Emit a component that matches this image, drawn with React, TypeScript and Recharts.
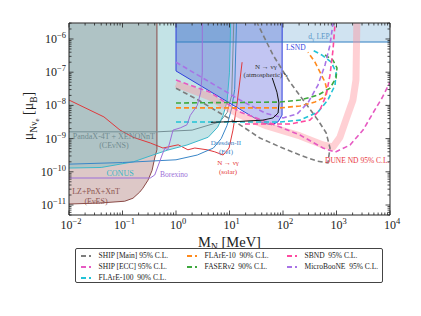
import { Area, ComposedChart, Line, ReferenceDot, XAxis, YAxis } from "recharts";

type Pt = [number, number];

const TOP = 3e-6;
const FONT = "'Liberation Serif', 'DejaVu Serif', serif";

// excluded regions (M_N in MeV, mu in mu_B)
const lzLower: Pt[] = [[0.01, 1.07e-11], [0.038, 1.15e-11], [0.11, 1.3e-11], [0.157, 1.6e-11], [0.21, 2.45e-11], [0.24, 3.2e-11], [0.3, 5.6e-11], [0.357, 1.1e-10], [0.4, 2.6e-10], [0.44, 4.6e-10], [0.44, TOP]];
const conus: Pt[] = [[0.01, 1.3e-10], [0.04, 1.35e-10], [0.16, 2e-10], [0.37, 3.2e-10], [0.7, 4.5e-10], [1.6, 6.4e-10], [4, 1.1e-9], [6, 2.2e-9], [7.6, 5e-9], [9, 1.3e-8], [10, 1e-7], [10.5, TOP]];
const dresden: Pt[] = [[0.01, 1.7e-10], [0.1, 1.9e-10], [1, 2.3e-10], [2.5, 3.2e-10], [5, 5.2e-10], [7, 1e-9], [9, 2.5e-9], [11, 8.3e-9], [12.5, 3e-8], [13.5, TOP]];
const pandax: Pt[] = [[0.01, 1.6e-9], [0.45, 1.6e-9], [2, 1.8e-9], [6.6, 3.2e-9], [9, 6e-9], [11, 2e-8], [12, TOP]];
const lsnd: Pt[] = [[1, TOP], [1, 1.09e-7], [42, 2.95e-9], [62, 2.6e-9], [81, 3.2e-9], [96, 5.1e-9], [96.5, TOP]];
const lep: Pt[] = [[1, 8.1e-7], [10000, 8.1e-7]];
const solar: Pt[] = [[0.01, 1.45e-8], [0.045, 4.5e-9], [0.09, 1.8e-9], [0.157, 1.1e-9], [0.33, 7.4e-10], [0.57, 5.2e-10], [1.1, 6.5e-10], [1.67, 4.6e-10], [2.25, 5.2e-10], [3.8, 4.6e-10], [5.3, 4e-10], [7.6, 3.2e-10], [9.8, 5.2e-10], [11.6, 1.8e-9], [13.7, 1e-8], [15.7, 5.8e-8], [17.2, 2e-7]];
const borexino: Pt[] = [[0.01, 6.5e-11], [0.33, 6.5e-11], [0.4, 8e-11], [0.55, 3.2e-10], [0.62, 5.2e-10], [0.7, 4.6e-10], [0.77, 8e-10], [0.88, 1.8e-9], [1.2, 2.1e-9], [1.6, 2.6e-9], [1.85, 5e-9], [2.5, 1e-8], [2.9, 2.5e-8], [3.1, 1e-7], [3.1, TOP]];
const atmospheric: Pt[] = [[4.5, 3.1e-9], [15.7, 3.3e-9], [42, 3.6e-9], [65, 4.2e-9], [81, 5.9e-9], [84, 1.18e-8], [77, 2.5e-8], [63, 6.7e-8]];
const duneBand: Pt[] = [[1, 4.4e-8], [4.3, 1.8e-8], [15.7, 5.1e-9], [50, 2.4e-9], [208, 1.2e-9], [560, 6.4e-10], [860, 5.6e-10], [1160, 1.1e-9], [1570, 4.5e-9], [2030, 1.45e-8], [2310, 5.8e-8], [2400, TOP]];

// projected sensitivities
const shipMain: Pt[] = [[1, 3.3e-8], [2.8, 1.36e-8], [6.6, 5.9e-9], [15.7, 2.6e-9], [37, 1.04e-9], [88, 5.6e-10], [208, 3.2e-10], [430, 2.1e-10], [690, 1.85e-10], [756, 5.2e-10], [640, 1.5e-9], [450, 3.6e-9], [260, 1.2e-8], [135, 5e-8], [65, 3.3e-7], [33, TOP]];
const shipEcc: Pt[] = [[1, 5.8e-8], [4.3, 2.5e-8], [15.7, 6.3e-9], [50, 3.2e-9], [208, 1.28e-9], [560, 5.2e-10], [940, 3.9e-10], [1790, 6.4e-10], [3130, 1.8e-9], [4810, 5.9e-9], [7080, 1.67e-8], [10000, 5e-8]];
const flare100: Pt[] = [[1, 3.16e-9], [88, 3.16e-9], [208, 3.6e-9], [450, 6.3e-9], [690, 1.45e-8], [940, 4.1e-8], [980, 1e-7], [800, 2e-7], [530, 3.3e-7], [350, 4.7e-7]];
const flare10: Pt[] = [[1, 8.4e-9], [88, 8.4e-9], [208, 9.6e-9], [396, 1.26e-8], [610, 1.8e-8], [665, 2.9e-8], [610, 5e-8], [492, 1e-7], [396, 2e-7], [293, 4e-7]];
const faser2: Pt[] = [[1, 1.18e-8], [88, 1.26e-8], [208, 1.45e-8], [451, 2.05e-8], [756, 3.3e-8], [980, 6.7e-8], [1020, 1.34e-7], [860, 2.3e-7], [610, 3.3e-7]];
const sbnd: Pt[] = [[19.5, 2.75e-9], [135, 2.75e-9], [320, 3.6e-9], [490, 7.3e-9], [640, 2e-8], [756, 8.2e-8], [860, 4.7e-7], [940, TOP]];
const microboone: Pt[] = [[1, 2e-7], [4.3, 5e-8], [15.7, 1.45e-8], [46, 5.9e-9], [100, 4.2e-9], [183, 5.5e-9], [293, 1.2e-8], [450, 4.1e-8], [610, 1.65e-7], [756, 6.6e-7], [860, TOP]];

const xDecades = [-2, -1, 0, 1, 2, 3, 4];
const yDecades = [-12, -11, -10, -9, -8, -7, -6];

const xTicks = xDecades.flatMap((d) => (d === 4 ? [1e4] : [1, 2, 3, 4, 5, 6, 7, 8, 9].map((k) => +(k * 10 ** d).toPrecision(3))));
const yTicks = yDecades.flatMap((d) => [1, 2, 3, 4, 5, 6, 7, 8, 9].map((k) => +(k * 10 ** d).toPrecision(3))).filter((v) => v >= 5e-12 && v <= TOP);

const dashed = [
  { name: "SHIP [Main] 95% C.L.", data: shipMain, color: "#7d7d7d" },
  { name: "SHIP [ECC] 95% C.L.", data: shipEcc, color: "#e65ac2" },
  { name: "FLArE-100  90% C.L.", data: flare100, color: "#22c3d6" },
  { name: "FLArE-10  90% C.L.", data: flare10, color: "#ff8a1c" },
  { name: "FASERν2  90% C.L.", data: faser2, color: "#3ea83e" },
  { name: "SBND  95% C.L.", data: sbnd, color: "#ff4aa0" },
  { name: "MicroBooNE  95% C.L.", data: microboone, color: "#a873e6" },
];

const pts = (a: Pt[]) => a.map(([m, mu]) => ({ m, mu }));
const toTop = (a: Pt[]) => a.map(([m, mu]) => ({ m, r: [mu, TOP] }));

const isMajor = (v: number) => Math.abs(Math.log10(v) - Math.round(Math.log10(v))) < 1e-6;
const exp = (v: number) => String(Math.round(Math.log10(v))).replace("-", "\u2212");

const BottomTick = ({ x, y, payload }: any) => {
  const major = isMajor(payload.value);
  return (
    <g>
      <line x1={x} x2={x} y1={y} y2={y - (major ? 4.5 : 2.5)} stroke="#222" strokeWidth={0.8} />
      {major && (
        <text x={x + 2} y={y + 14} textAnchor="middle" fontFamily={FONT} fontSize={12} fill="#222">
          10<tspan dy={-5} fontSize={8.5}>{exp(payload.value)}</tspan>
        </text>
      )}
    </g>
  );
};
const TopTick = ({ x, y, payload }: any) => (
  <line x1={x} x2={x} y1={y} y2={y + (isMajor(payload.value) ? 4.5 : 2.5)} stroke="#222" strokeWidth={0.8} />
);
const LeftTick = ({ x, y, payload }: any) => {
  const major = isMajor(payload.value);
  return (
    <g>
      <line x1={x} x2={x + (major ? 4.5 : 2.5)} y1={y} y2={y} stroke="#222" strokeWidth={0.8} />
      {major && (
        <text x={x - 3} y={y + 4} textAnchor="end" fontFamily={FONT} fontSize={12} fill="#222">
          10<tspan dy={-5} fontSize={8.5}>{exp(payload.value)}</tspan>
        </text>
      )}
    </g>
  );
};
const RightTick = ({ x, y, payload }: any) => (
  <line x1={x} x2={x - (isMajor(payload.value) ? 4.5 : 2.5)} y1={y} y2={y} stroke="#222" strokeWidth={0.8} />
);

const YTitle = ({ viewBox }: any) => (
  <text transform={`translate(${viewBox.x + 33},${viewBox.y + viewBox.height / 2 - 3}) rotate(-90)`} textAnchor="middle" fontFamily={FONT} fontSize={14} fill="#222">
    μ<tspan fontSize={9.5} dy={3.5}>Nν</tspan><tspan fontSize={7} dy={2}>e</tspan>
    <tspan fontSize={14} dy={-5.5}>{" [μ"}</tspan><tspan fontSize={9.5} dy={3.5}>B</tspan><tspan fontSize={14} dy={-3.5}>]</tspan>
  </text>
);
const XTitle = ({ viewBox }: any) => (
  <text x={viewBox.x + viewBox.width / 2} y={viewBox.y + 32} textAnchor="middle" fontFamily={FONT} fontSize={14.5} fill="#222">
    M<tspan fontSize={9.5} dy={3}>N</tspan><tspan fontSize={14.5} dy={-3}>{" [MeV]"}</tspan>
  </text>
);

type Note = { m: number; mu: number; lines: string[]; color: string; anchor?: "start" | "middle" | "end"; size?: number };
const notes: Note[] = [
  { m: 0.069, mu: 1.2e-9, lines: ["PandaX-4T + XENONnT", "(CEνNS)"], color: "#6f8b90", size: 8 },
  { m: 0.09, mu: 9.1e-11, lines: ["CONUS"], color: "#36b6c8", size: 8 },
  { m: 0.5, mu: 8.5e-11, lines: ["Borexino"], color: "#9b6fd8", anchor: "start", size: 7.5 },
  { m: 0.032, mu: 2.6e-11, lines: ["LZ+PnX+XnT", "(EνES)"], color: "#8c5450", size: 8 },
  { m: 8.6, mu: 7.4e-10, lines: ["Dresden-II", "(FeI)"], color: "#3b82c4", size: 7 },
  { m: 9.4, mu: 1.84e-10, lines: ["N → νγ", "(solar)"], color: "#e53935", size: 7 },
  { m: 48, mu: 1.5e-7, lines: ["N → νγ", "(atmospheric)↘"], color: "#333", size: 7 },
  { m: 114, mu: 5.4e-7, lines: ["LSND"], color: "#3848e0", anchor: "start", size: 7.5 },
  { m: 610, mu: 2.26e-10, lines: ["DUNE ND 95% C.L."], color: "#e8383d", anchor: "start", size: 7.5 },
];

const NoteText = ({ viewBox, note }: any) => {
  const cx = viewBox.x + viewBox.width / 2;
  const cy = viewBox.y + viewBox.height / 2;
  const size = note.size ?? 7.5;
  return (
    <text x={cx} y={cy + size * 0.35} textAnchor={note.anchor ?? "middle"} fontFamily={FONT} fontSize={size} fill={note.color}>
      {note.lines.map((l: string, i: number) => (
        <tspan key={i} x={cx} dy={i === 0 ? 0 : size * 1.2}>{l}</tspan>
      ))}
    </text>
  );
};

const LepLabel = ({ viewBox }: any) => (
  <text x={viewBox.x} y={viewBox.y + 3} textAnchor="middle" fontFamily={FONT} fontSize={7.5} fill="#5b97c9">
    d<tspan fontSize={5.5} dy={2}>γ</tspan><tspan dy={-2}>{" LEP"}</tspan>
  </text>
);

// legend: box 75..383 x 248..283, three columns
const legendCols = [
  { marker: 81, items: [0, 1, 2] },
  { marker: 187, items: [3, 4] },
  { marker: 287, items: [5, 6] },
];

function LegendBox() {
  return (
    <div style={{ position: "absolute", left: 75, top: 248, width: 306, height: 33, border: "1.4px solid #444", borderRadius: 2, background: "#fff" }}>
      {legendCols.map((c) =>
        c.items.map((idx, row) => (
          <div key={idx} style={{ position: "absolute", left: c.marker - 76.4, top: 1.5 + row * 11, height: 10, display: "flex", alignItems: "center", whiteSpace: "nowrap" }}>
            <svg width={18} height={10} style={{ flex: "none" }}>
              <line x1={0} x2={10} y1={5} y2={5} stroke={dashed[idx].color} strokeWidth={1.8} strokeDasharray="5 3" />
            </svg>
            <span style={{ fontFamily: FONT, fontSize: 7.5, lineHeight: "10px", color: "#222", whiteSpace: "pre" }}>{dashed[idx].name}</span>
          </div>
        )),
      )}
    </div>
  );
}

export default function App() {
  const common = { isAnimationActive: false, dot: false, activeDot: false, type: "linear" as const, dataKey: "mu", legendType: "none" as const };
  return (
    <div style={{ position: "absolute", left: 0, top: 0, width: 421, height: 316, background: "#fff" }}>
      <ComposedChart width={421} height={316} margin={{ top: 22, right: 30, bottom: 71, left: 0 }}>
        <XAxis xAxisId={0} dataKey="m" type="number" scale="log" domain={[0.01, 10000]} allowDataOverflow ticks={xTicks} interval={0} tick={<BottomTick />} tickSize={0} tickMargin={0} tickLine={false} height={30} axisLine={{ stroke: "#222" }} label={<XTitle />} />
        <XAxis xAxisId="top" orientation="top" dataKey="m" type="number" scale="log" domain={[0.01, 10000]} allowDataOverflow ticks={xTicks} interval={0} tick={<TopTick />} tickSize={0} tickMargin={0} tickLine={false} height={1} axisLine={{ stroke: "#222" }} />
        <YAxis yAxisId={0} type="number" scale="log" domain={[5e-12, 3.03e-6]} allowDataOverflow ticks={yTicks} interval={0} tick={<LeftTick />} tickSize={0} tickMargin={0} tickLine={false} width={69} axisLine={{ stroke: "#222" }} label={<YTitle />} />
        <YAxis yAxisId="right" orientation="right" type="number" scale="log" domain={[5e-12, 3.03e-6]} allowDataOverflow ticks={yTicks} interval={0} tick={<RightTick />} tickSize={0} tickMargin={0} tickLine={false} width={1} axisLine={{ stroke: "#222" }} />

        <Line {...common} data={pts(solar)} stroke="#e0383b" strokeWidth={1} />

        <Area data={toTop(lzLower)} dataKey="r" type="linear" fill="#8f4a45" fillOpacity={0.3} stroke="none" isAnimationActive={false} legendType="none" activeDot={false} />
        <Area data={toTop(conus)} dataKey="r" type="linear" fill="#70bcc3" fillOpacity={0.42} stroke="none" isAnimationActive={false} legendType="none" activeDot={false} />
        <Area data={toTop(lsnd)} dataKey="r" type="linear" fill="#4c55d8" fillOpacity={0.34} stroke="none" isAnimationActive={false} legendType="none" activeDot={false} />
        <Area data={toTop(lep)} dataKey="r" type="linear" fill="#2a7fc0" fillOpacity={0.22} stroke="none" isAnimationActive={false} legendType="none" activeDot={false} />

        <Line {...common} data={pts(lzLower)} stroke="#8b4b47" strokeWidth={1} />
        <Line {...common} data={pts(pandax)} stroke="#748f95" strokeWidth={1} />
        <Line {...common} data={pts(conus)} stroke="#3bb8cb" strokeWidth={1} />
        <Line {...common} data={pts(dresden)} stroke="#3a86c8" strokeWidth={1} />
        <Line {...common} data={pts(lsnd)} stroke="#2f3fdc" strokeWidth={1} />
        <Line {...common} data={pts(lep)} stroke="#2f7fc2" strokeWidth={1} />

        <Line {...common} data={pts(duneBand)} stroke="#ff8f98" strokeOpacity={0.42} strokeWidth={7} strokeLinejoin="round" />

        {dashed.map((s) => (
          <Line key={s.name} {...common} data={pts(s.data)} stroke={s.color} strokeWidth={1.6} strokeDasharray="5 3" />
        ))}

        <Line {...common} data={pts(borexino)} stroke="#9b6fd8" strokeWidth={1} />
        <Line {...common} data={pts(atmospheric)} stroke="#111" strokeWidth={1} />

        {notes.map((n, i) => (
          <ReferenceDot key={i} x={n.m} y={n.mu} r={1} fill="none" stroke="none" ifOverflow="visible" label={<NoteText note={n} />} />
        ))}
        <ReferenceDot x={492} y={1.15e-6} r={1} fill="none" stroke="none" ifOverflow="visible" label={<LepLabel />} />
      </ComposedChart>
      <LegendBox />
    </div>
  );
}
